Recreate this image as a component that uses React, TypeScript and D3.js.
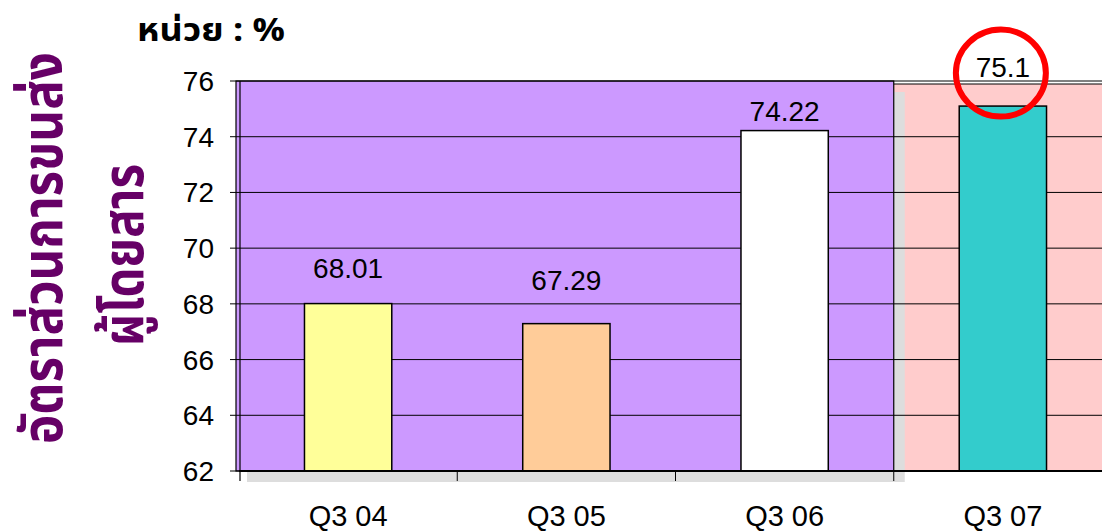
import React from 'react';
import * as d3 from 'd3';

// chart data
const quarters = ['Q3 04', 'Q3 05', 'Q3 06', 'Q3 07'];
const loadFactor = [68.01, 67.29, 74.22, 75.1];
const yTicks = [62, 64, 66, 68, 70, 72, 74, 76];
const unitLabel = 'หน่วย : %';
const yTitleLines = ['อัตราส่วนการขนส่ง', 'ผู้โดยสาร'];

const barColors = ['#FFFF99', '#FFCC99', '#FFFFFF', '#33CCCC'];
// how far each value label sits above its bar (as laid out in the original)
const labelLift = [26, 34, 10, 29];

const W = 1102;
const H = 532;
const thaiFont = "Tahoma, 'Noto Sans Thai', 'Noto Sans Thai Looped', Loma, Garuda, sans-serif";
const arial = "Arial, 'Liberation Sans', sans-serif";

export default function App() {
  const x = d3.scaleBand()
    .domain(quarters)
    .range([239, 1112])
    .paddingInner(0.6)
    .paddingOuter(0.3);
  const y = d3.scaleLinear().domain([62, 76]).range([471, 81]);

  const step = x.step();
  const left = x.range()[0];
  const boxRight = left + step * 3;
  const y0 = y(62);
  const yTop = y(76);
  const lastI = quarters.length - 1;
  const circleX = (x(quarters[lastI]) as number) + x.bandwidth() / 2 - 2;
  const circleY = y(loadFactor[lastI]) - labelLift[lastI] - 4;

  return (
    <svg width={W} height={H} style={{ display: 'block', position: 'absolute', left: 0, top: 0 }}>
      <rect width={W} height={H} fill="#fff" />

      {/* pink background for the latest quarter */}
      <rect x={boxRight} y={yTop + 3} width={W - boxRight} height={y0 - yTop - 3} fill="#FFCCCC" />
      <line x1={boxRight} x2={W} y1={yTop + 3} y2={yTop + 3} stroke="#000" strokeWidth={1} />

      {/* shadow + purple box for the earlier quarters */}
      <rect x={left - 3 + 11} y={yTop + 11} width={boxRight - left + 3} height={y0 - yTop} fill="#DDDDDD" />
      <rect x={left - 3} y={yTop} width={boxRight - left + 3} height={y0 - yTop} fill="#CC99FF" stroke="#000" strokeWidth={1.2} />

      {/* gridlines */}
      {yTicks.map(t => (
        <line key={'g' + t} x1={left} x2={W} y1={y(t)} y2={y(t)} stroke="#000" strokeWidth={1} />
      ))}

      {/* bars */}
      {quarters.map((q, i) => (
        <rect key={q} x={x(q)} y={y(loadFactor[i])} width={x.bandwidth()} height={y0 - y(loadFactor[i])}
          fill={barColors[i]} stroke="#000" strokeWidth={1.5} />
      ))}

      {/* axes */}
      <line x1={left + 1} x2={left + 1} y1={yTop} y2={y0 + 10} stroke="#000" strokeWidth={1.2} />
      <line x1={left} x2={W} y1={y0} y2={y0} stroke="#000" strokeWidth={2.2} />
      {yTicks.map(t => (
        <g key={'t' + t}>
          <line x1={left - 9} x2={left} y1={y(t)} y2={y(t)} stroke="#000" strokeWidth={1} />
          <text x={214} y={y(t) + 10} textAnchor="end" fontFamily={arial} fontSize={28}>{t}</text>
        </g>
      ))}
      {quarters.map((q, i) => (
        <g key={'x' + q}>
          <line x1={left + step * (i + 1)} x2={left + step * (i + 1)} y1={y0} y2={y0 + 10} stroke="#000" strokeWidth={1} />
          <text x={(x(q) as number) + x.bandwidth() / 2} y={526} textAnchor="middle" fontFamily={arial} fontSize={29}>{q}</text>
        </g>
      ))}

      {/* value labels */}
      {quarters.map((q, i) => (
        <text key={'v' + q} x={(x(q) as number) + x.bandwidth() / 2} y={y(loadFactor[i]) - labelLift[i]}
          textAnchor="middle" fontFamily={arial} fontSize={28}>{loadFactor[i]}</text>
      ))}

      {/* highlight on the latest value */}
      <ellipse cx={circleX} cy={circleY} rx={45} ry={43.5} fill="none" stroke="#FF0000" strokeWidth={6} />

      {/* unit */}
      <text x={137} y={41} fontFamily={thaiFont} fontWeight="bold" fontSize={32}
        textLength={148} lengthAdjust="spacingAndGlyphs">{unitLabel}</text>

      {/* y title */}
      <text transform="translate(62,248) rotate(-90)" textAnchor="middle" fontFamily={thaiFont}
        fontWeight="bold" fontSize={56} fill="#660066" textLength={392} lengthAdjust="spacingAndGlyphs">{yTitleLines[0]}</text>
      <text transform="translate(143,255) rotate(-90)" textAnchor="middle" fontFamily={thaiFont}
        fontWeight="bold" fontSize={56} fill="#660066" textLength={182} lengthAdjust="spacingAndGlyphs">{yTitleLines[1]}</text>
    </svg>
  );
}
